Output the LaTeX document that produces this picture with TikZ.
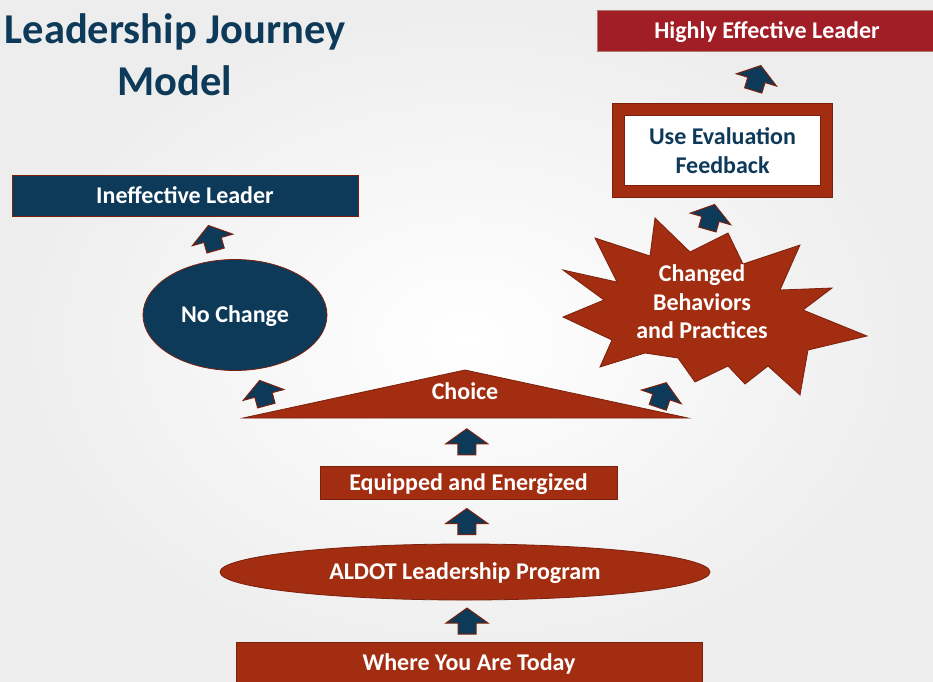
\documentclass[tikz,border=0pt]{standalone}
\usepackage{fontspec}
\setmainfont{Carlito}
\usetikzlibrary{shapes.geometric,calc,positioning}

\definecolor{brick}{RGB}{163,45,16}
\definecolor{navy}{RGB}{14,58,90}
\definecolor{crimson}{RGB}{162,30,38}
\definecolor{rim}{RGB}{122,32,12}

\tikzset{
  lbl/.style={font=\bfseries\fontsize{24}{28.5}\selectfont, text=white, align=center},
  oneline/.style={lbl, inner sep=0pt, text height=15.5pt, text depth=0pt},
  redbox/.style={oneline, rectangle, fill=brick, draw=rim, line width=0.8pt},
  bluebox/.style={oneline, rectangle, fill=navy, draw=rim, line width=0.8pt},
  redoval/.style={oneline, ellipse, fill=brick, draw=rim, line width=0.8pt},
  blueoval/.style={oneline, ellipse, fill=navy, draw=rim, line width=0.8pt},
  upblock/.pic={
    \draw[fill=navy, draw=rim, line width=1pt]
      (0,-13) -- (21,2) -- (9,2) -- (9,13) -- (-9,13) -- (-9,2) -- (-21,2) -- cycle;
  }
}

\begin{document}
\begin{tikzpicture}[x=1pt, y=-1pt]
  \clip (0,0) rectangle (933,681);
  \shade[inner color=white, outer color=black!7] (0,0) rectangle (933,681);

  % title
  \node[font=\bfseries\fontsize{42.5}{52}\selectfont, text=navy, align=center] (title)
    at (175,55) {Leadership Journey\\Model};

  % the main column
  \node[redbox, minimum width=466pt, minimum height=42pt] (today) at (469,663) {Where You Are Today};
  \node[redoval, minimum width=490pt, minimum height=56pt] (aldot) at (465,572) {ALDOT Leadership Program};
  \node[redbox, minimum width=297pt, minimum height=33pt] (equipped) at (468.5,482.5) {Equipped and Energized};

  \draw[fill=brick, draw=rim, line width=0.8pt] (243,418) -- (465,370) -- (688,418) -- cycle;
  \coordinate (choicebase) at (465,418);
  \node[oneline] (choice) at (465,392) {Choice};

  % left branch
  \node[blueoval, minimum width=184pt, minimum height=111pt] (nochange) at (235,315) {No Change};
  \node[bluebox, minimum width=346pt, minimum height=41pt] (ineffective) at (185,195.5) {Ineffective Leader};

  % right branch
  \draw[fill=brick, draw=rim, line width=0.8pt]
    (595,238) -- (650,256) -- (655,218) -- (690,252) -- (728,233) -- (743,264)
    -- (800,245) -- (780,290) -- (832,288) -- (803,310) -- (867,336) -- (808,350)
    -- (800,395) -- (768,366) -- (745,384) -- (728,366) -- (695,382) -- (678,358)
    -- (645,353) -- (600,367) -- (612,340) -- (563,317) -- (604,300) -- (563,270)
    -- (617,282) -- cycle;
  \node[lbl] (changed) at (702,302) {Changed\\Behaviors\\and Practices};

  \node[lbl, text=navy, rectangle, fill=white, draw=rim, line width=0.8pt,
        double=brick, double distance=11pt, inner sep=0pt,
        minimum width=208.5pt, minimum height=82.5pt] (feedback) at (722.5,150.5)
        {Use Evaluation\\Feedback};
  \node[oneline, rectangle, fill=crimson, draw=rim!60, line width=0.6pt,
        minimum width=340pt, minimum height=41pt] (effective) at (767,30.5) {Highly Effective Leader};

  % block arrows
  \pic at ($(today.north)!0.5!(aldot.south)$) {upblock};
  \pic at ($(aldot.north)!0.5!(equipped.south)$) {upblock};
  \pic at ($(equipped.north)!0.5!(choicebase)$) {upblock};
  \pic[rotate=15] at (263,393) {upblock};
  \pic[rotate=16] at (212,238) {upblock};
  \pic[rotate=-19] at (662,395) {upblock};
  \pic[rotate=-16] at (711,217) {upblock};
  \pic[rotate=-17] at (757,78) {upblock};
\end{tikzpicture}
\end{document}
